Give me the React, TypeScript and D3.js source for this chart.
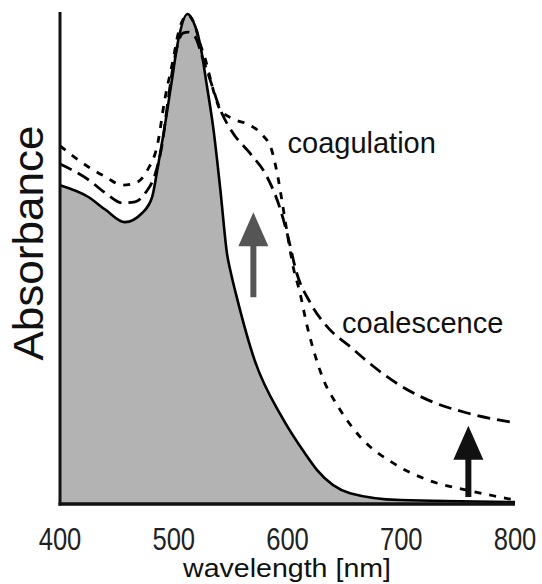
import React from 'react';
import * as d3 from 'd3';

// plasmon band of the dispersed particles (filled)
const baseWl = [400, 425, 440, 457, 472, 481, 486, 492, 498, 504, 512, 519, 523, 529, 535, 541, 547, 550, 556, 571, 595, 615, 626, 655, 699, 800];
const baseAbs = [0.648, 0.624, 0.598, 0.573, 0.591, 0.624, 0.685, 0.766, 0.856, 0.943, 0.996, 0.970, 0.937, 0.852, 0.760, 0.638, 0.506, 0.472, 0.415, 0.293, 0.177, 0.104, 0.069, 0.022, 0.008, 0.004];

// coalescence (long dashes)
const coalWl = [400, 425, 440, 455, 466, 475, 484, 490, 495, 501, 508, 513, 519, 525, 532, 541, 552, 567, 582, 593, 600, 608, 620, 635, 655, 670, 699, 728, 758, 800];
const coalAbs = [0.691, 0.659, 0.632, 0.612, 0.614, 0.632, 0.673, 0.734, 0.821, 0.909, 0.957, 0.959, 0.949, 0.909, 0.862, 0.801, 0.754, 0.713, 0.665, 0.604, 0.547, 0.470, 0.409, 0.360, 0.320, 0.290, 0.241, 0.207, 0.185, 0.165];

// coagulation (short dashes)
const coagWl = [400, 425, 440, 455, 466, 477, 486, 492, 499, 504, 512, 519, 523, 528, 532, 536, 541, 552, 567, 578, 586, 592, 596, 600, 605, 611, 617, 622, 634, 640, 664, 693, 723, 758, 787, 800];
const coagAbs = [0.728, 0.685, 0.665, 0.648, 0.652, 0.679, 0.734, 0.821, 0.898, 0.957, 0.994, 0.970, 0.937, 0.902, 0.866, 0.831, 0.801, 0.783, 0.770, 0.750, 0.720, 0.659, 0.604, 0.547, 0.482, 0.429, 0.364, 0.320, 0.240, 0.215, 0.136, 0.083, 0.049, 0.028, 0.014, 0.008];

const xTicks = [400, 500, 600, 700, 800];

const labels = [
  { text: 'coagulation', wl: 600, abs: 0.713 },
  { text: 'coalescence', wl: 648, abs: 0.348 },
];

// arrows: wavelength, from / to absorbance
const arrows = [
  { wl: 570, from: 0.42, to: 0.593, color: '#555555' },
  { wl: 759, from: 0.014, to: 0.159, color: '#111111' },
];

const W = 542;
const H = 584;

export default function App() {
  const x = d3.scaleLinear().domain([400, 800]).range([60, 515]);
  const y = d3.scaleLinear().domain([0, 1]).range([504, 12]);

  const toPts = (wl: number[], ab: number[]) => wl.map((w, i) => [w, ab[i]] as [number, number]);

  const line = d3.line<[number, number]>()
    .x(d => x(d[0]))
    .y(d => y(d[1]))
    .curve(d3.curveMonotoneX);

  const area = d3.area<[number, number]>()
    .x(d => x(d[0]))
    .y0(y(0))
    .y1(d => y(d[1]))
    .curve(d3.curveMonotoneX);

  const base = toPts(baseWl, baseAbs);
  const coal = toPts(coalWl, coalAbs);
  const coag = toPts(coagWl, coagAbs);

  const arrowPath = (a: typeof arrows[0]) => {
    const cx = x(a.wl);
    const yb = y(a.from);
    const yt = y(a.to);
    const headH = 34;
    const headW = 15;
    const sw = 3;
    return `M${cx - sw},${yb} L${cx - sw},${yt + headH} L${cx - headW},${yt + headH} L${cx},${yt} ` +
      `L${cx + headW},${yt + headH} L${cx + sw},${yt + headH} L${cx + sw},${yb} Z`;
  };

  return (
    <svg width={W} height={H} style={{ position: 'absolute', left: 0, top: 0, background: '#fff' }}
      fontFamily="'Liberation Sans', Arial, sans-serif">
      <rect width={W} height={H} fill="#fff" />
      <path d={area(base) ?? ''} fill="#b3b3b3" />
      <path d={line(base) ?? ''} fill="none" stroke="#000" strokeWidth={2.6} />
      <path d={line(coal) ?? ''} fill="none" stroke="#000" strokeWidth={2.8} strokeDasharray="13 7" />
      <path d={line(coag) ?? ''} fill="none" stroke="#000" strokeWidth={2.8} strokeDasharray="7 8" />

      {/* axes */}
      <line x1={x(400)} x2={x(400)} y1={y(1)} y2={y(0) + 1.5} stroke="#111" strokeWidth={3} />
      <line x1={x(400) - 1.5} x2={x(800)} y1={y(0)} y2={y(0)} stroke="#111" strokeWidth={3.5} />

      {arrows.map((a, i) => (
        <path key={i} d={arrowPath(a)} fill={a.color} />
      ))}

      {xTicks.map(t => (
        <text key={t} transform={`translate(${x(t)},550) scale(0.8,1)`} textAnchor="middle"
          fontSize={32} fill="#222">{t}</text>
      ))}

      {labels.map(l => (
        <text key={l.text} x={x(l.wl)} y={y(l.abs)} fontSize={29} fill="#111">{l.text}</text>
      ))}

      <text transform="translate(43,243) rotate(-90)" textAnchor="middle" fontSize={42} fill="#111"
        textLength={235} lengthAdjust="spacingAndGlyphs">Absorbance</text>
      <text x={287} y={577} textAnchor="middle" fontSize={25} fill="#111"
        textLength={208} lengthAdjust="spacingAndGlyphs">wavelength [nm]</text>
    </svg>
  );
}
